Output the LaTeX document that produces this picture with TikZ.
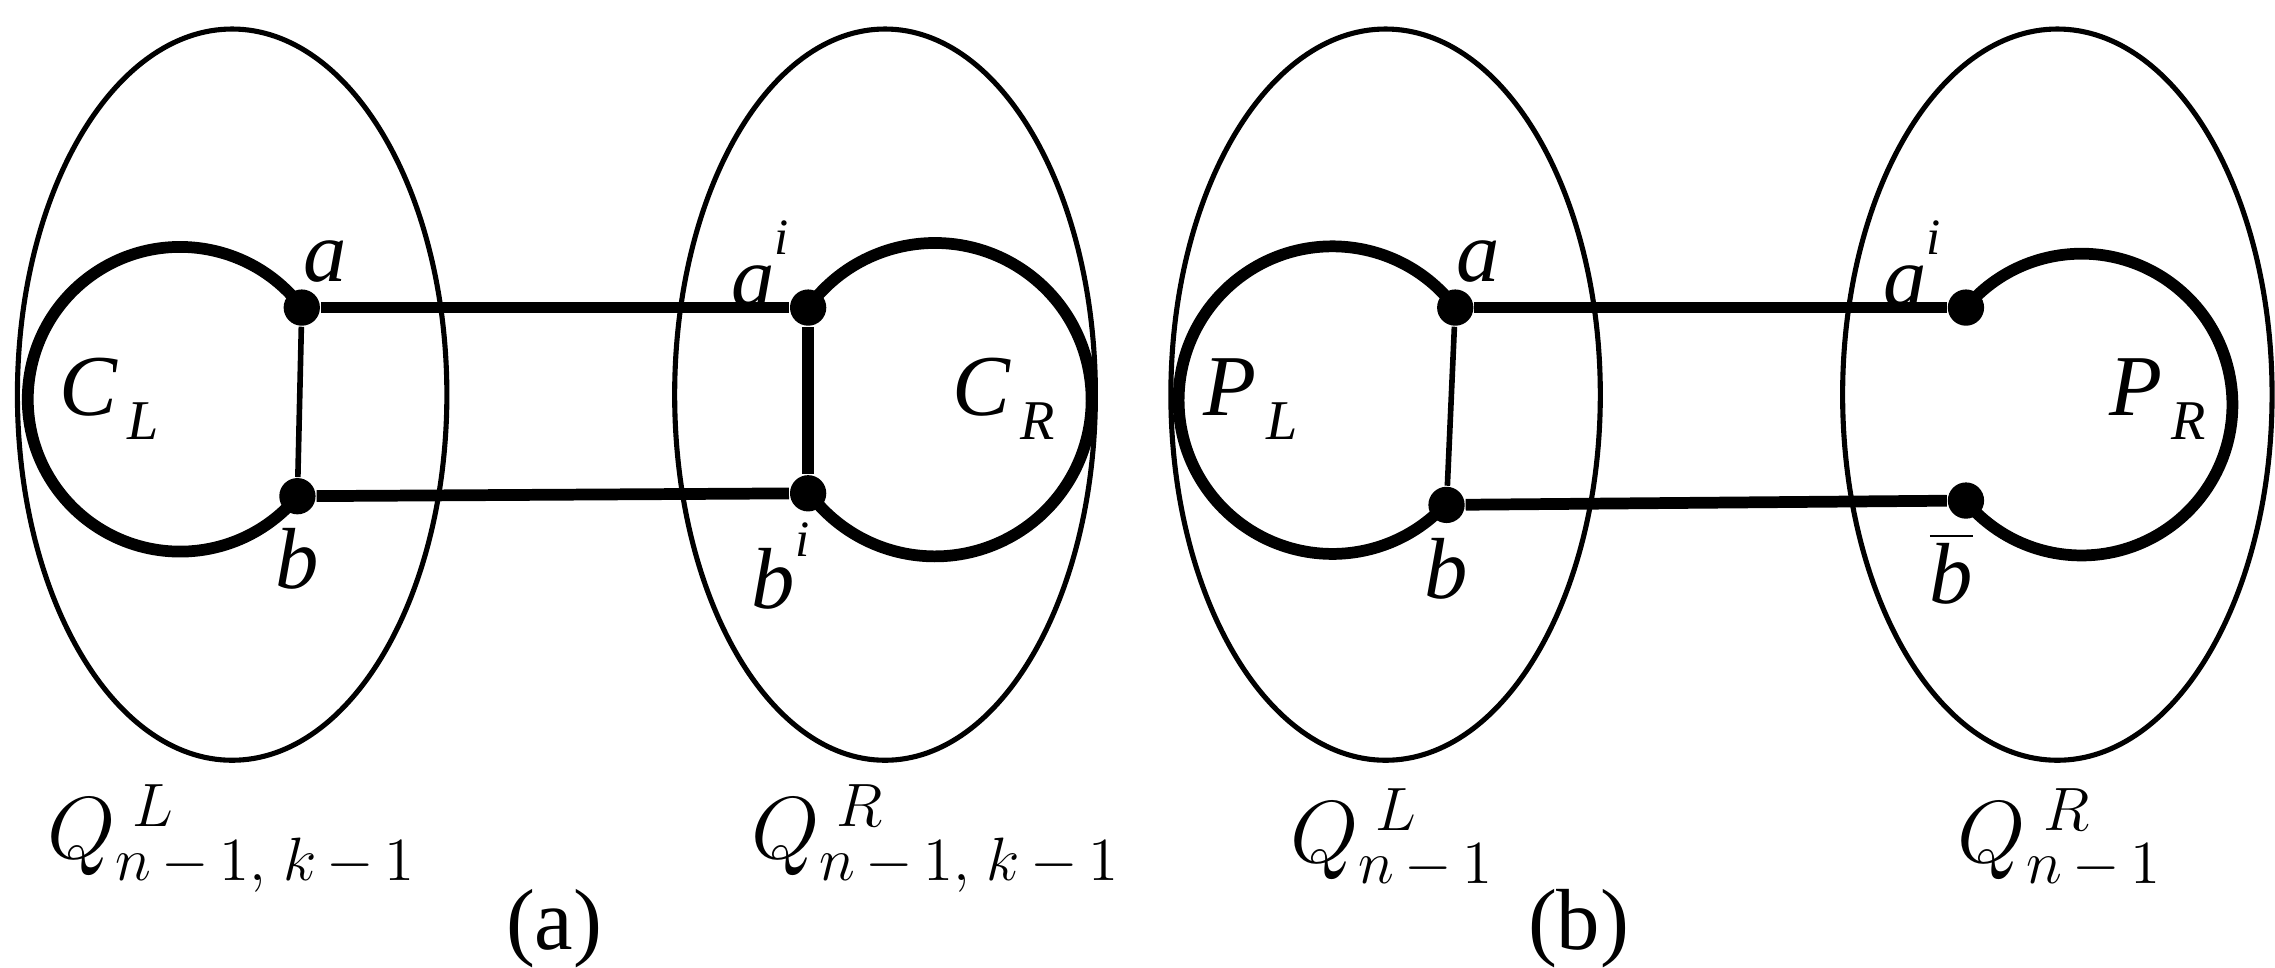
\documentclass[tikz,border=0pt]{standalone}
\usepackage{fontspec}
\setmainfont{Liberation Serif}
\begin{document}
\begin{tikzpicture}[x=0.01cm,y=-0.01cm,
  ell/.style={line width=1pt},
  thk/.style={line width=2.3pt},
  thn/.style={line width=1.1pt},
  dot/.style={circle,fill=black,inner sep=0pt,minimum size=0.25cm},
  lab/.style={font=\fontsize{17}{19}\selectfont},
  big/.style={font=\fontsize{17}{19}\selectfont}]
\useasboundingbox (0,0) rectangle (1568,667);
% panel a
\draw[ell] (160,272) ellipse [x radius=148,y radius=252];
\draw[ell] (610,272) ellipse [x radius=145,y radius=252];
\node[dot] (a) at (208,212) {};
\node[dot] (b) at (205,342) {};
\node[dot] (ai) at (557,212) {};
\node[dot] (bi) at (557,340) {};
\draw[thk] (a.center) arc[start angle=-37,end angle=-323,radius=105];
\draw[thk] (ai.center) arc[start angle=-144,end angle=144,radius=108];
\draw[thk] (a) -- (ai);
\draw[thk] (b) -- (bi);
\draw[thn] (a) -- (b);
\draw[thk] (ai) -- (bi);
\node[lab] (la) at (224,180) {\textit{a}};
\node[lab] (lb) at (205,385) {\textit{b}};
\node[lab] (lai) at (524,182) {\textit{a}\raisebox{1.3ex}{\fontsize{10}{12}\selectfont\textit{i}}};
\node[lab] (lbi) at (538,390) {\textit{b}\raisebox{1.3ex}{\fontsize{10}{12}\selectfont\textit{i}}};
\node[lab] (cl) at (75,275) {\textit{C}\raisebox{-0.6ex}{\fontsize{11}{12}\selectfont\,\textit{L}}};
\node[lab] (cr) at (692,275) {\textit{C}\raisebox{-0.6ex}{\fontsize{11}{12}\selectfont\,\textit{R}}};
\node[big] (ql) at (160,578) {$Q^{\;L}_{n\,-\,1,\;k\,-\,1}$};
\node[big] (qr) at (645,578) {$Q^{\;R}_{n\,-\,1,\;k\,-\,1}$};
\node[big] (pa) at (382,640) {(a)};
% panel b
\draw[ell] (955,272) ellipse [x radius=148,y radius=252];
\draw[ell] (1418,272) ellipse [x radius=148,y radius=252];
\node[dot] (a2) at (1003,212) {};
\node[dot] (b2) at (997,348) {};
\node[dot] (ai2) at (1355,212) {};
\node[dot] (bb) at (1355,345) {};
\draw[thk] (a2.center) arc[start angle=-37,end angle=-323,radius=106];
\draw[thk] (ai2.center) arc[start angle=-140,end angle=140,radius=104];
\draw[thk] (a2) -- (ai2);
\draw[thk] (b2) -- (bb);
\draw[thn] (a2) -- (b2);
\node[lab] (la2) at (1019,180) {\textit{a}};
\node[lab] (lb2) at (997,392) {\textit{b}};
\node[lab] (lai2) at (1318,182) {\textit{a}\raisebox{1.3ex}{\fontsize{10}{12}\selectfont\textit{i}}};
\node[lab] (lbb) at (1345,392) {$\overline{\mbox{\textit{b}}}$};
\node[lab] (pl) at (862,275) {\textit{P}\raisebox{-0.6ex}{\fontsize{11}{12}\selectfont\,\textit{L}}};
\node[lab] (pr) at (1487,275) {\textit{P}\raisebox{-0.6ex}{\fontsize{11}{12}\selectfont\,\textit{R}}};
\node[big] (ql2) at (960,578) {$Q^{\;L}_{n\,-\,1}$};
\node[big] (qr2) at (1420,578) {$Q^{\;R}_{n\,-\,1}$};
\node[big] (pb) at (1088,640) {(b)};
\end{tikzpicture}
\end{document}
